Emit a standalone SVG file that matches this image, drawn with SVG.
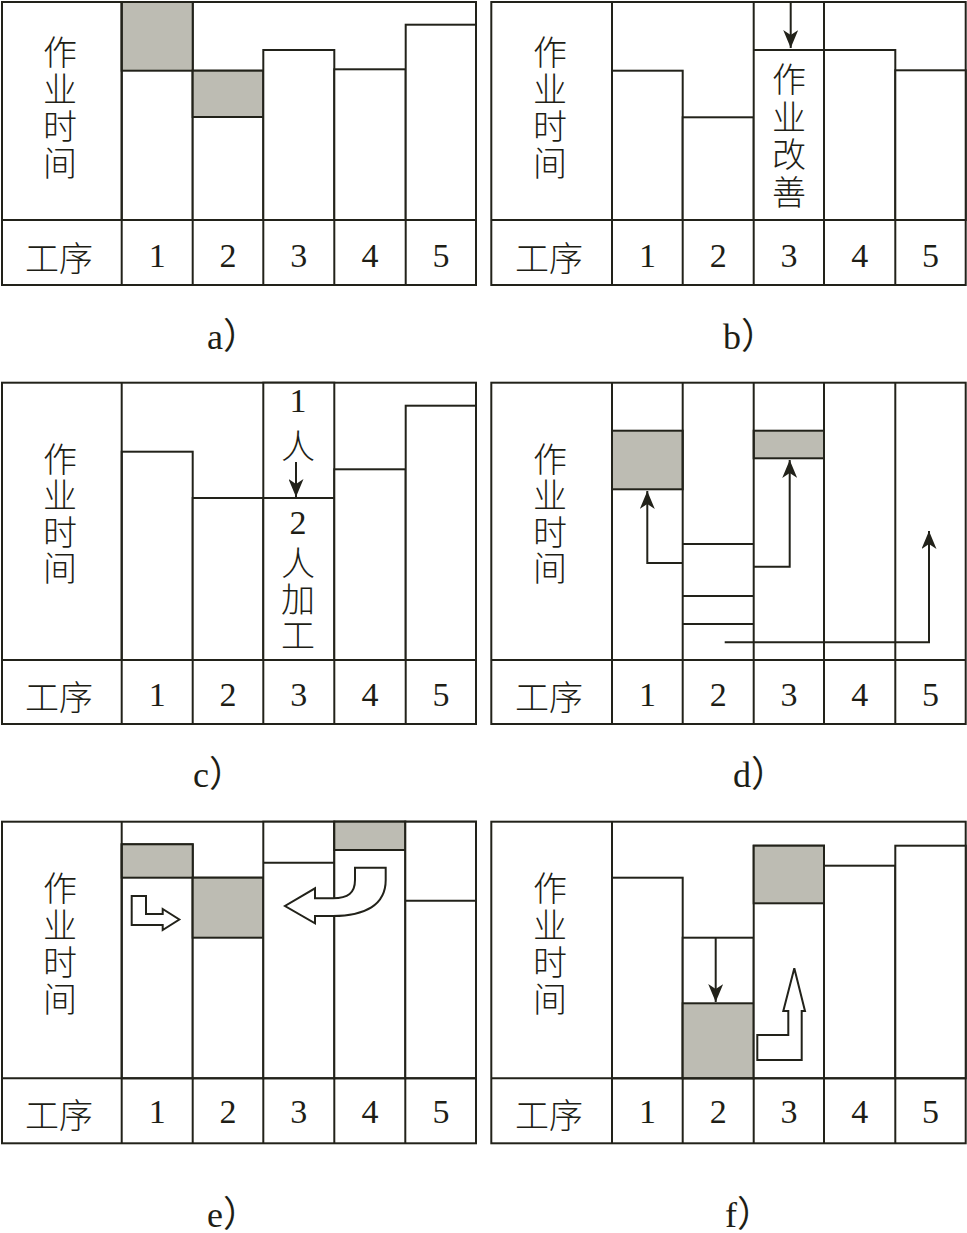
<svg xmlns="http://www.w3.org/2000/svg" width="967" height="1233" viewBox="0 0 967 1233">
<style>
.ln{fill:none;stroke:#22221a;stroke-width:2}
.bx{fill:#fff;stroke:#22221a;stroke-width:2}
.sh{fill:#bdbcb3;stroke:#22221a;stroke-width:2}
.ho{fill:#fff;stroke:#22221a;stroke-width:2;stroke-linejoin:miter}
.ar{fill:none;stroke:#22221a;stroke-width:2;marker-end:url(#ah)}
.cjk{font-family:"Noto Sans CJK SC",sans-serif;font-size:34px;font-weight:300;fill:#1e1e16;text-anchor:middle;dominant-baseline:central}
.vt{font-family:"Noto Sans CJK SC",sans-serif;font-size:34px;font-weight:300;fill:#1e1e16;writing-mode:vertical-rl;text-anchor:start}
.num{font-family:"Liberation Serif",serif;font-size:34px;fill:#1e1e16;text-anchor:middle}
.cap{font-family:"Liberation Serif","Noto Sans CJK SC",serif;font-size:36px;fill:#1e1e16}
</style>
<defs>
<marker id="ah" markerUnits="userSpaceOnUse" markerWidth="18" markerHeight="15" refX="18" refY="7.5" orient="auto" viewBox="0 0 18 15">
<path d="M0,0 L18,7.5 L0,15 L5,7.5 Z" fill="#22221a"/>
</marker>
</defs>
<rect x="0" y="0" width="967" height="1233" fill="#fff"/>

<g id="panel-a">
<rect class="bx" x="2" y="2" width="474" height="283"/>
<rect class="bx" x="121.7" y="2" width="71" height="218"/>
<rect class="sh" x="121.7" y="2" width="71" height="68.7"/>
<rect class="bx" x="192.7" y="70.7" width="70.6" height="149.3"/>
<rect class="sh" x="192.7" y="70.7" width="70.6" height="46.3"/>
<rect class="bx" x="263.3" y="50" width="71" height="170"/>
<rect class="bx" x="334.3" y="69.3" width="71.4" height="150.7"/>
<rect class="bx" x="405.7" y="24.7" width="70.3" height="195.3"/>
<path class="ln" d="M2,220H476M121.7,2V285M192.7,220V285M263.3,220V285M334.3,220V285M405.7,220V285"/>
<text class="vt" x="60" y="35" letter-spacing="3">作业时间</text>
<text class="cjk" x="59" y="256">工序</text>
<text class="num" x="157.2" y="267">1</text><text class="num" x="228" y="267">2</text><text class="num" x="298.8" y="267">3</text><text class="num" x="370" y="267">4</text><text class="num" x="440.9" y="267">5</text>
<text class="cap" x="207" y="349">a）</text>
</g>

<g id="panel-b">
<rect class="bx" x="491.3" y="2" width="474.4" height="283"/>
<rect class="bx" x="612" y="70.7" width="70.7" height="149.3"/>
<rect class="bx" x="682.7" y="117.3" width="71" height="102.7"/>
<rect class="bx" x="753.7" y="2" width="70.3" height="218"/>
<rect class="bx" x="824" y="50" width="71.3" height="170"/>
<rect class="bx" x="895.3" y="70.3" width="70.4" height="149.7"/>
<path class="ln" d="M753.7,50H824M491.3,220H965.7M612,2V285M682.7,220V285M753.7,220V285M824,220V285M895.3,220V285"/>
<text class="vt" x="550" y="35" letter-spacing="3">作业时间</text>
<text class="vt" x="789" y="62" letter-spacing="3.7">作业改善</text>
<text class="cjk" x="549" y="256">工序</text>
<text class="num" x="647.4" y="267">1</text><text class="num" x="718.2" y="267">2</text><text class="num" x="788.9" y="267">3</text><text class="num" x="859.7" y="267">4</text><text class="num" x="930.5" y="267">5</text>
<text class="cap" x="723" y="349">b）</text>
</g>

<g id="panel-c">
<rect class="bx" x="2" y="382.7" width="474" height="341.3"/>
<rect class="bx" x="121.7" y="451.7" width="71" height="208.3"/>
<rect class="bx" x="192.7" y="498" width="70.6" height="162"/>
<rect class="bx" x="263.3" y="382.7" width="71" height="277.3"/>
<rect class="bx" x="334.3" y="469.3" width="71.4" height="190.7"/>
<rect class="bx" x="405.7" y="405.7" width="70.3" height="254.3"/>
<path class="ln" d="M263.3,498H334.3M2,660H476M121.7,382.7V724M192.7,660V724M263.3,660V724M334.3,660V724M405.7,660V724"/>
<text class="vt" x="60" y="442" letter-spacing="2.3">作业时间</text>
<text class="num" x="298" y="412">1</text>
<text class="cjk" x="298" y="444">人</text>
<text class="num" x="298" y="534">2</text>
<text class="vt" x="298" y="546" letter-spacing="2">人加工</text>
<text class="cjk" x="59" y="695">工序</text>
<text class="num" x="157.2" y="706">1</text><text class="num" x="228" y="706">2</text><text class="num" x="298.8" y="706">3</text><text class="num" x="370" y="706">4</text><text class="num" x="440.9" y="706">5</text>
<text class="cap" x="193" y="787">c）</text>
</g>

<g id="panel-d">
<rect class="bx" x="491.3" y="382.7" width="474.4" height="341.3"/>
<rect class="sh" x="612" y="430.7" width="70.7" height="58.6"/>
<rect class="sh" x="753.7" y="430.7" width="70.3" height="27.6"/>
<path class="ln" d="M682.7,544H753.7M682.7,596H753.7M682.7,624H753.7M491.3,660H965.7M612,382.7V724M682.7,382.7V724M753.7,382.7V724M824,382.7V724M895.3,382.7V724"/>
<text class="vt" x="550" y="442" letter-spacing="2.3">作业时间</text>
<text class="cjk" x="549" y="695">工序</text>
<text class="num" x="647.4" y="706">1</text><text class="num" x="718.2" y="706">2</text><text class="num" x="788.9" y="706">3</text><text class="num" x="859.7" y="706">4</text><text class="num" x="930.5" y="706">5</text>
<text class="cap" x="733" y="787">d）</text>
</g>

<g id="panel-e">
<rect class="bx" x="2" y="821.7" width="474" height="321.6"/>
<rect class="bx" x="121.7" y="844.3" width="71" height="234"/>
<rect class="sh" x="121.7" y="844.3" width="71" height="33.4"/>
<rect class="bx" x="192.7" y="877.7" width="70.6" height="200.6"/>
<rect class="sh" x="192.7" y="877.7" width="70.6" height="60"/>
<rect class="bx" x="263.3" y="821.7" width="71" height="256.6"/>
<rect class="bx" x="334.3" y="821.7" width="71" height="256.6"/>
<rect class="sh" x="334.3" y="821.7" width="71" height="28.3"/>
<rect class="bx" x="405.3" y="821.7" width="70.7" height="256.6"/>
<path class="ln" d="M263.3,862.7H334.3M405.3,900.7H476M2,1078.3H476M121.7,821.7V1143.3M192.7,1078.3V1143.3M263.3,1078.3V1143.3M334.3,1078.3V1143.3M405.3,1078.3V1143.3"/>
<text class="vt" x="60" y="871" letter-spacing="3">作业时间</text>
<text class="cjk" x="59" y="1113">工序</text>
<text class="num" x="157.2" y="1123">1</text><text class="num" x="228" y="1123">2</text><text class="num" x="298.8" y="1123">3</text><text class="num" x="370" y="1123">4</text><text class="num" x="440.9" y="1123">5</text>
<text class="cap" x="207" y="1227">e）</text>
</g>

<g id="panel-f">
<rect class="bx" x="491.3" y="821.7" width="474.4" height="321.6"/>
<rect class="bx" x="612" y="877.7" width="70.7" height="200.6"/>
<rect class="bx" x="682.7" y="937.7" width="71" height="140.6"/>
<rect class="sh" x="682.7" y="1003.3" width="71" height="75"/>
<rect class="bx" x="753.7" y="845.7" width="70.3" height="232.6"/>
<rect class="sh" x="753.7" y="845.7" width="70.3" height="57.6"/>
<rect class="bx" x="824" y="865.7" width="71.3" height="212.6"/>
<rect class="bx" x="895.3" y="845.7" width="70.4" height="232.6"/>
<path class="ln" d="M491.3,1078.3H965.7M612,821.7V1143.3M682.7,1078.3V1143.3M753.7,1078.3V1143.3M824,1078.3V1143.3M895.3,1078.3V1143.3"/>
<text class="vt" x="550" y="871" letter-spacing="3">作业时间</text>
<text class="cjk" x="549" y="1113">工序</text>
<text class="num" x="647.4" y="1123">1</text><text class="num" x="718.2" y="1123">2</text><text class="num" x="788.9" y="1123">3</text><text class="num" x="859.7" y="1123">4</text><text class="num" x="930.5" y="1123">5</text>
<text class="cap" x="725" y="1227">f）</text>
</g>

<g id="connectors">
<path class="ar" d="M790.7,2V48"/>
<path class="ar" d="M296,462V497"/>
<path class="ar" d="M682.7,563H647.3V491"/>
<path class="ar" d="M753.7,566.7H789.7V460"/>
<path class="ar" d="M724.7,642.3H929V531"/>
<path class="ar" d="M715.7,937.7V1002"/>
<path class="ho" d="M131.7,896H146V914H162.7V909L179.3,919.5L162.7,930V925H131.7Z"/>
<path class="ho" d="M355,867.7H385.7V880C385.7,905 365,916 333,916H315V923.3L285,906L315,888.3V898.3H333C348,898 355,893 355,880Z"/>
<path class="ho" d="M757.3,1060H801.7V1011H805L794.3,968.3L783.3,1011H788.3V1035H757.3Z"/>
</g>
</svg>
